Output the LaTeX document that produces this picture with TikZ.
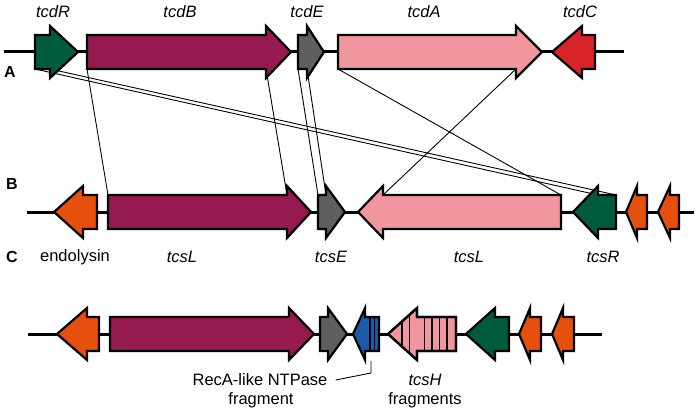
\documentclass[tikz,border=0pt]{standalone}
\usepackage{fontspec}
\setmainfont{Liberation Sans}
\definecolor{toxB}{RGB}{149,26,79}
\definecolor{toxA}{RGB}{240,150,158}
\definecolor{regR}{RGB}{0,90,60}
\definecolor{holE}{RGB}{95,95,95}
\definecolor{negC}{RGB}{215,35,40}
\definecolor{orfO}{RGB}{229,80,15}
\definecolor{recB}{RGB}{30,90,170}
% gene arrows: start, head base, tip, row
\newcommand{\fwdpath}[4]{(#1,#4-17) -- (#2,#4-17) -- (#2,#4-26) -- (#3,#4) -- (#2,#4+26) -- (#2,#4+17) -- (#1,#4+17) -- cycle}
\newcommand{\revpath}[4]{(#1,#4) -- (#2,#4-26) -- (#2,#4-17) -- (#3,#4-17) -- (#3,#4+17) -- (#2,#4+17) -- (#2,#4+26) -- cycle}
\tikzset{
  gene/.style={draw=black,line width=2.2pt,line join=miter},
  backbone/.style={line width=3pt},
  link/.style={line width=.9pt},
  lab/.style={font=\fontsize{16.5}{19}\selectfont\itshape,inner sep=0pt},
  plain/.style={font=\fontsize{16.5}{19}\selectfont,inner sep=0pt},
  rowlab/.style={font=\fontsize{16}{19}\selectfont\bfseries,inner sep=0pt}
}
\begin{document}
\begin{tikzpicture}[x=1pt,y=-1pt]
\useasboundingbox (0,0) rectangle (700,414);
% backbones
\draw[backbone] (4,52) -- (624,52);
\draw[backbone] (27,212) -- (694,212);
\draw[backbone] (28,334) -- (602,334);
% anchor points
\coordinate (tcdR-l) at (35,69); \coordinate (tcdR-h) at (50,69);
\coordinate (tcdB-l) at (87,69); \coordinate (tcdB-h) at (266,69);
\coordinate (tcdE-l) at (298,69); \coordinate (tcdE-h) at (307,69);
\coordinate (tcdA-l) at (338,69); \coordinate (tcdA-h) at (516,69);
\coordinate (tcsL-l) at (108,195); \coordinate (tcsL-h) at (287,195);
\coordinate (tcsE-l) at (318,195); \coordinate (tcsE-h) at (326,195);
\coordinate (tcsLb-h) at (383,195); \coordinate (tcsLb-r) at (561,195);
\coordinate (tcsR-h) at (598,195); \coordinate (tcsR-r) at (616,195);
% homology lines
\draw[link] (tcdR-l) -- (tcsR-h);
\draw[link] (tcdR-h) -- (tcsR-r);
\draw[link] (tcdB-l) -- (tcsL-l);
\draw[link] (tcdB-h) -- (tcsL-h);
\draw[link] (tcdE-l) -- (tcsE-l);
\draw[link] (tcdE-h) -- (tcsE-h);
\draw[link] (tcdA-l) -- (tcsLb-r);
\draw[link] (tcdA-h) -- (tcsLb-h);
% row A
\draw[gene,fill=regR] \fwdpath{35}{50}{78}{52};
\draw[gene,fill=toxB] \fwdpath{87}{266}{291}{52};
\draw[gene,fill=holE] \fwdpath{298}{307}{324}{52};
\draw[gene,fill=toxA] \fwdpath{338}{516}{542}{52};
\draw[gene,fill=negC] \revpath{552}{582}{595}{52};
% row B
\draw[gene,fill=orfO] \revpath{54}{83}{97}{212};
\draw[gene,fill=toxB] \fwdpath{108}{287}{311}{212};
\draw[gene,fill=holE] \fwdpath{318}{326}{345}{212};
\draw[gene,fill=toxA] \revpath{358}{383}{561}{212};
\draw[gene,fill=regR] \revpath{573}{598}{616}{212};
\draw[gene,fill=orfO] \revpath{626}{637}{647}{212};
\draw[gene,fill=orfO] \revpath{658}{670}{679}{212};
% row C
\draw[gene,fill=orfO] \revpath{57}{87}{99}{334};
\draw[gene,fill=toxB] \fwdpath{110}{289}{314}{334};
\draw[gene,fill=holE] \fwdpath{320}{328}{347}{334};
\draw[gene,fill=recB] \revpath{353}{365}{379}{334};
\draw[line width=1.6pt] (369.7,318) -- (369.7,351) (374.3,318) -- (374.3,351);
\draw[gene,fill=toxA] \revpath{388}{417}{456}{334};
\begin{scope}
\clip \revpath{388}{417}{456}{334};
\foreach \x in {402,409.5,424.5,432,439.5,447}
  \draw[line width=1.6pt] (\x,300) -- (\x,370);
\end{scope}
\draw[gene] \revpath{388}{417}{456}{334};
\draw[gene,fill=regR] \revpath{466}{495}{509}{334};
\draw[gene,fill=orfO] \revpath{519}{530}{541}{334};
\draw[gene,fill=orfO] \revpath{552}{563}{574}{334};
% labels
\node[lab] (ltcdR) at (53,12) {tcdR};
\node[lab] (ltcdB) at (180,12) {tcdB};
\node[lab] (ltcdE) at (307,12) {tcdE};
\node[lab] (ltcdA) at (424,12) {tcdA};
\node[lab] (ltcdC) at (580,12) {tcdC};
\node[plain] (lendo) at (75,257) {endolysin};
\node[lab] (ltcsL) at (182,257) {tcsL};
\node[lab] (ltcsE) at (331,257) {tcsE};
\node[lab] (ltcsLb) at (469,257) {tcsL};
\node[lab] (ltcsR) at (603,257) {tcsR};
\node[plain] (lrecA) at (260,380) {RecA-like NTPase};
\node[plain] (lfrag) at (261,400) {fragment};
\node[lab] (ltcsH) at (425,380) {tcsH};
\node[plain] (lfrags) at (425,400) {fragments};
\node[rowlab] (rA) at (10,72) {A};
\node[rowlab] (rB) at (12,184) {B};
\node[rowlab] (rC) at (12,257) {C};
% pointer to the RecA fragment
\coordinate (recbend) at (371,373);
\coordinate (rectop) at (371,361);
\draw[link] ([xshift=8pt]lrecA.east) -- (recbend) -- (rectop);
\end{tikzpicture}
\end{document}
